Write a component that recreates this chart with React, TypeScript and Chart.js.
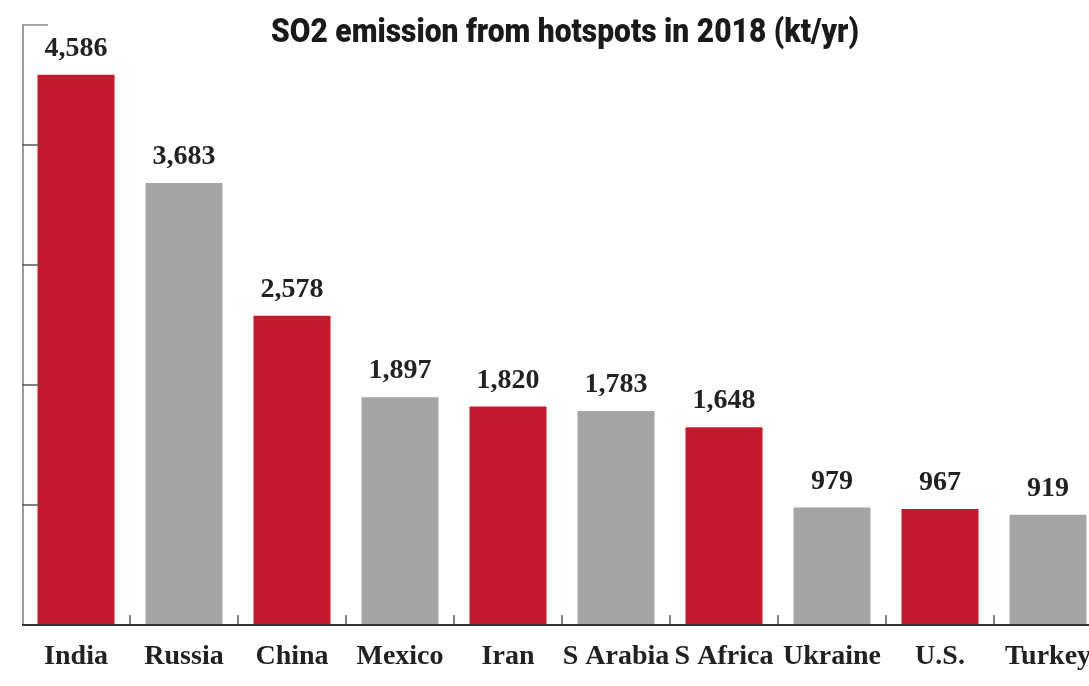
import React, { useEffect, useRef } from "react";
import { Chart, registerables } from "chart.js";

Chart.register(...registerables);

const chartTitle = "SO2 emission from hotspots in 2018 (kt/yr)";
const categories = ["India", "Russia", "China", "Mexico", "Iran", "S Arabia", "S Africa", "Ukraine", "U.S.", "Turkey"];
const emissions = [4586, 3683, 2578, 1897, 1820, 1783, 1648, 979, 967, 919];
const RED = "#c41a2f";
const GRAY = "#a4a4a4";
const barColors = [RED, GRAY, RED, GRAY, RED, GRAY, RED, GRAY, RED, GRAY];
const yTicks = [0, 1000, 2000, 3000, 4000, 5000];

const labelFont = "bold 28px 'Liberation Serif', serif";

const decorPlugin = {
  id: "decor",
  afterDatasetsDraw(chart: any) {
    const { ctx, chartArea, scales } = chart;
    const xs = scales.x;
    const ys = scales.y;
    const yTop = ys.getPixelForValue(yTicks[yTicks.length - 1]);
    const yBot = ys.getPixelForValue(0);
    const left = chartArea.left;
    ctx.save();

    // y axis line
    ctx.strokeStyle = "#9c9c9c";
    ctx.lineWidth = 2;
    ctx.beginPath();
    ctx.moveTo(left + 1, yTop);
    ctx.lineTo(left + 1, yBot);
    ctx.stroke();

    // inner y ticks
    yTicks.forEach((v, i) => {
      const py = ys.getPixelForValue(v);
      ctx.strokeStyle = i === yTicks.length - 1 ? "#8a8a8a" : "#555555";
      ctx.lineWidth = 1.5;
      ctx.beginPath();
      ctx.moveTo(left, py);
      ctx.lineTo(left + (i === yTicks.length - 1 ? 26 : 18), py);
      ctx.stroke();
    });

    // x axis line
    ctx.strokeStyle = "#333333";
    ctx.lineWidth = 2;
    ctx.beginPath();
    ctx.moveTo(left, yBot);
    ctx.lineTo(chart.width, yBot);
    ctx.stroke();

    // small x ticks between categories
    ctx.lineWidth = 1.2;
    for (let i = 0; i < categories.length - 1; i++) {
      const px = (xs.getPixelForTick(i) + xs.getPixelForTick(i + 1)) / 2;
      ctx.beginPath();
      ctx.moveTo(px, yBot);
      ctx.lineTo(px, yBot - 10);
      ctx.stroke();
    }

    // value labels
    ctx.fillStyle = "#222222";
    ctx.font = labelFont;
    ctx.textAlign = "center";
    ctx.textBaseline = "alphabetic";
    const meta = chart.getDatasetMeta(0);
    meta.data.forEach((bar: any, i: number) => {
      ctx.fillText(emissions[i].toLocaleString("en-US"), bar.x, bar.y - 19);
    });

    // title (condensed heavy sans)
    ctx.font = "900 33px Roboto, sans-serif";
    ctx.fillStyle = "#1a1a1a";
    ctx.textAlign = "left";
    const w = ctx.measureText(chartTitle).width;
    const targetW = 588;
    const sx = targetW / w;
    const cx = 565;
    ctx.translate(cx - targetW / 2, 42);
    ctx.scale(sx, 1);
    ctx.fillText(chartTitle, 0, 0);
    ctx.restore();
  },
};

export default function App() {
  const ref = useRef<HTMLCanvasElement | null>(null);
  useEffect(() => {
    if (!ref.current) return;
    const chart = new Chart(ref.current, {
      type: "bar",
      data: {
        labels: categories,
        datasets: [
          {
            data: emissions,
            backgroundColor: barColors,
            borderWidth: 0,
            categoryPercentage: 1,
            barPercentage: 0.713,
          },
        ],
      },
      options: {
        responsive: false,
        animation: false,
        layout: { padding: { left: 22, top: 25, right: 0, bottom: 0 } },
        plugins: {
          legend: { display: false },
          title: { display: false },
          tooltip: { enabled: false },
        },
        scales: {
          x: {
            grid: { display: false, drawTicks: false },
            border: { display: false },
            ticks: {
              color: "#222222",
              font: { family: "'Liberation Serif', serif", size: 28, weight: "bold", lineHeight: 0.8 },
              padding: 21,
              maxRotation: 0,
              autoSkip: false,
            },
            afterFit(scale: any) {
              scale.height = 61;
              scale.paddingLeft = 0;
              scale.paddingRight = 0;
            },
          },
          y: {
            display: false,
            min: 0,
            max: 5000,
          },
        },
      },
      plugins: [decorPlugin],
    });
    return () => chart.destroy();
  }, []);

  return (
    <div
      style={{
        position: "fixed",
        left: 0,
        top: 0,
        width: 1089,
        height: 686,
        overflow: "hidden",
        background: "#ffffff",
      }}
    >
      <canvas ref={ref} width={1102} height={686} style={{ display: "block" }} />
    </div>
  );
}
